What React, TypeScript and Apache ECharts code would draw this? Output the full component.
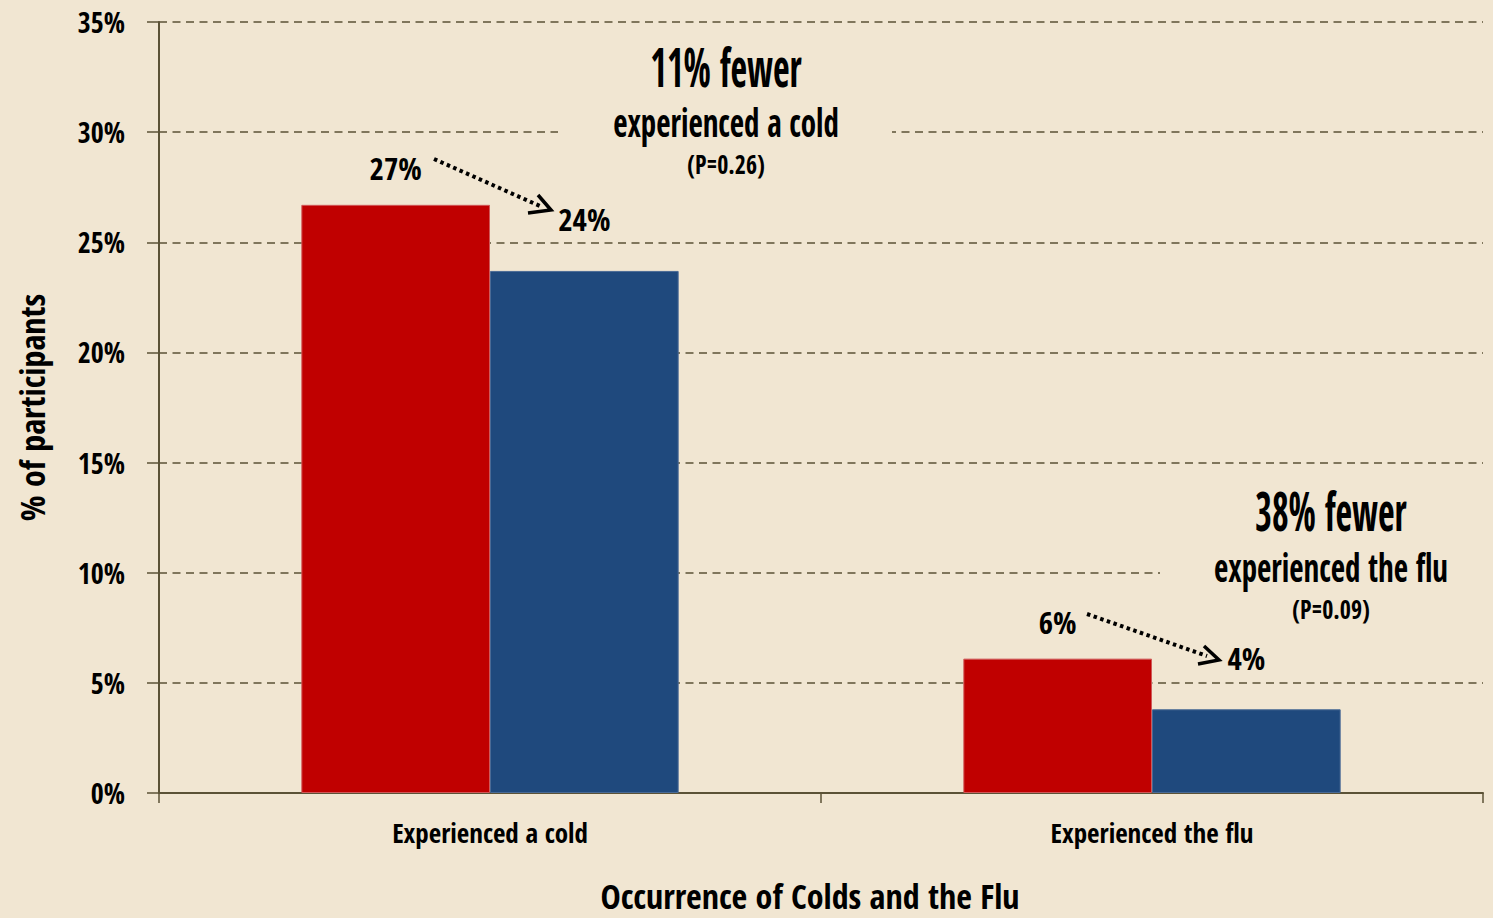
import React, { useEffect, useRef } from "react";
import * as echarts from "echarts";

const categories = ["Experienced a cold", "Experienced the flu"];
const controlValues = [26.7, 6.1];
const treatmentValues = [23.7, 3.8];
const yMin = 0;
const yMax = 35;
const yInterval = 5;
const coldNote = ["11% fewer", "experienced a cold", "(P=0.26)"];
const fluNote = ["38% fewer", "experienced the flu", "(P=0.09)"];

const FONT = '"Open Sans Condensed", "Roboto Condensed", "DejaVu Sans Condensed", sans-serif';
const BG = "#F1E6D2";
const LINE = "#5B5236";

function noteTexts(lines: string[], cx: number, ys: number[]) {
  const sizes = [36, 31, 24];
  const sy = [1.5, 1.3, 1.1];
  return lines.map((t, i) => ({
    type: "text",
    x: cx,
    y: ys[i],
    scaleY: sy[i],
    z: 5,
    style: {
      text: t,
      x: 0,
      y: 0,
      textAlign: "center",
      textVerticalAlign: "middle",
      fill: "#000",
      font: `bold ${sizes[i]}px ${FONT}`,
    },
  }));
}

function arrow(x1: number, y1: number, x2: number, y2: number, wing1: number[], tip: number[], wing2: number[]) {
  return [
    {
      type: "line",
      z: 5,
      shape: { x1, y1, x2, y2 },
      style: { stroke: "#000", lineWidth: 4, lineDash: [3.5, 3.5] },
    },
    {
      type: "polyline",
      z: 5,
      shape: { points: [wing1, tip, wing2] },
      style: { stroke: "#000", lineWidth: 3.5, fill: null },
    },
  ];
}

export default function App() {
  const ref = useRef<HTMLDivElement>(null);
  useEffect(() => {
    if (!ref.current) return;
    const chart = echarts.init(ref.current, null, { renderer: "svg" });
    const labelStyle = {
      show: true,
      position: "top",
      color: "#000",
      fontFamily: FONT,
      fontWeight: "bold",
      fontSize: 31,
      formatter: (p: any) => `${Math.round(p.value)}%`,
    };
    chart.setOption({
      animation: false,
      backgroundColor: BG,
      grid: { left: 159, right: 10, top: 22, bottom: 125, containLabel: false },
      xAxis: {
        type: "category",
        data: categories,
        name: "Occurrence of Colds and the Flu",
        nameLocation: "middle",
        nameGap: 86,
        nameTextStyle: {
          fontFamily: FONT,
          fontWeight: "bold",
          fontSize: 34,
          color: "#000",
          padding: [0, 22, 0, 0],
        },
        axisLine: { lineStyle: { color: LINE, width: 2 } },
        axisTick: { show: true, length: 10, lineStyle: { color: LINE, width: 1.5 } },
        axisLabel: { margin: 26, fontFamily: FONT, fontWeight: "bold", fontSize: 27, color: "#000" },
      },
      yAxis: {
        type: "value",
        min: yMin,
        max: yMax,
        interval: yInterval,
        name: "% of participants",
        nameLocation: "middle",
        nameGap: 110,
        nameTextStyle: { fontFamily: FONT, fontWeight: "bold", fontSize: 34, color: "#000" },
        axisLine: { show: true, lineStyle: { color: LINE, width: 2 } },
        axisTick: { show: true, length: 12, lineStyle: { color: LINE, width: 1.5 } },
        axisLabel: {
          margin: 34,
          formatter: "{value}%",
          fontFamily: FONT,
          fontWeight: "bold",
          fontSize: 28,
          color: "#000",
        },
        splitLine: { show: true, lineStyle: { color: LINE, width: 1.5, type: [8, 5.5] } },
      },
      series: [
        {
          name: "Control",
          type: "bar",
          data: controlValues,
          barGap: "0%",
          barCategoryGap: "43%",
          itemStyle: { color: "#C00000", borderColor: "#D05858", borderWidth: 1 },
          label: { ...labelStyle, distance: 21 },
          z: 3,
        },
        {
          name: "Treatment",
          type: "bar",
          data: treatmentValues,
          barGap: "0%",
          barCategoryGap: "43%",
          itemStyle: { color: "#1F497D", borderColor: "#4A6A95", borderWidth: 1 },
          label: { ...labelStyle, distance: 36 },
          z: 3,
        },
      ],
      graphic: [
        { type: "rect", z: 1, shape: { x: 558, y: 40, width: 334, height: 150 }, style: { fill: BG } },
        { type: "rect", z: 1, shape: { x: 1160, y: 478, width: 333, height: 154 }, style: { fill: BG } },
        ...noteTexts(coldNote, 726, [66, 122, 164]),
        ...noteTexts(fluNote, 1331, [510, 567, 609]),
        ...arrow(434, 159, 540, 206, [538, 195], [551, 210], [528, 213]),
        ...arrow(1087, 614, 1207, 656, [1204, 646], [1219, 660], [1198, 664]),
      ],
    });
    return () => chart.dispose();
  }, []);
  return (
    <div
      ref={ref}
      style={{ position: "fixed", left: 0, top: 0, width: "1493px", height: "918px" }}
    />
  );
}
